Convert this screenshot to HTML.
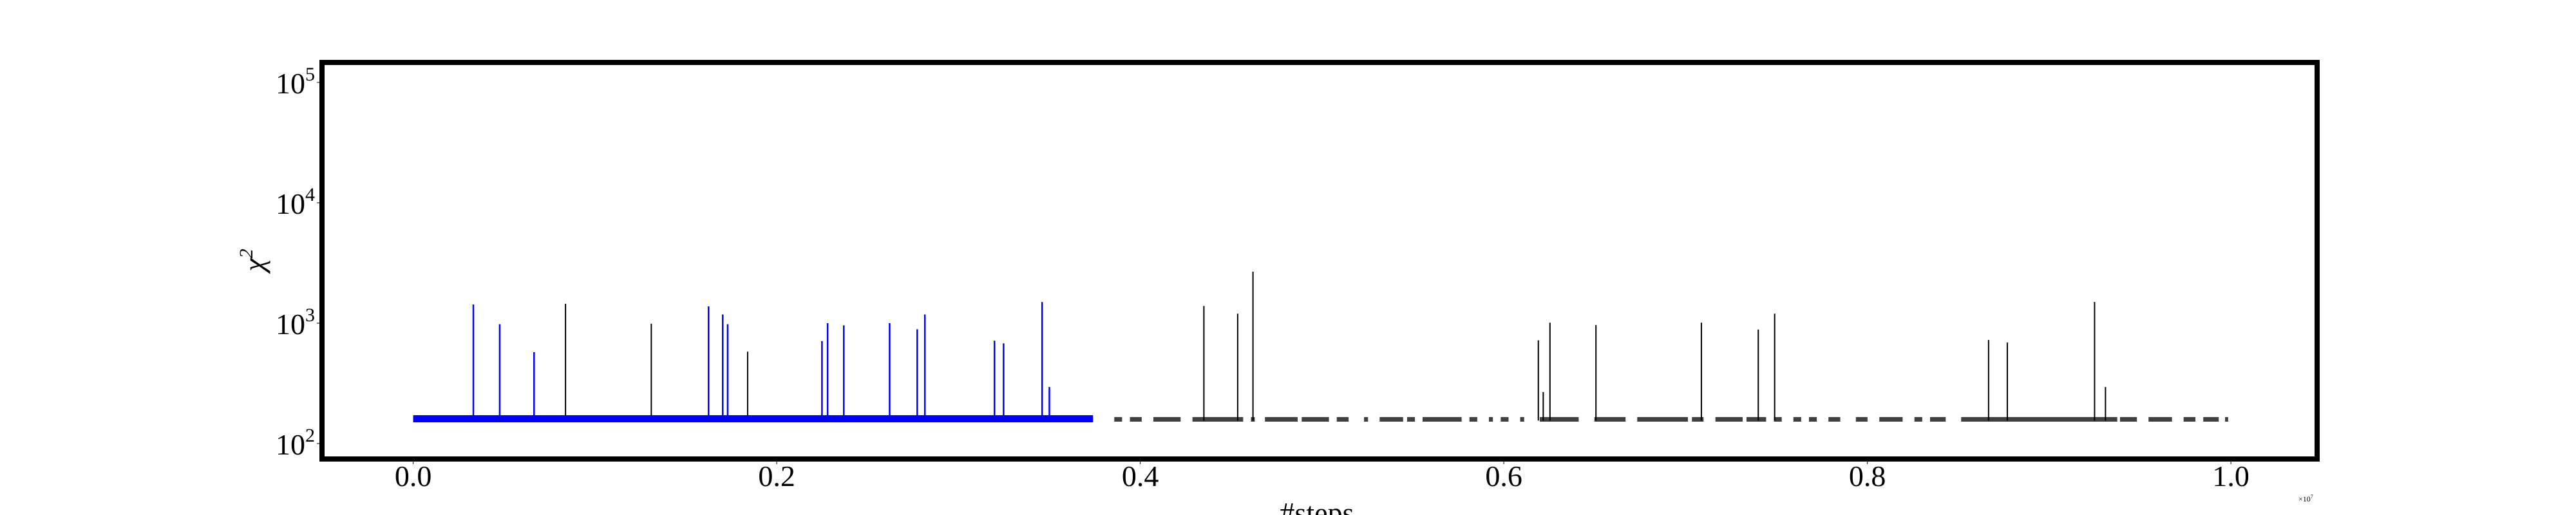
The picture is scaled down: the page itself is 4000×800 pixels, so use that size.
<!DOCTYPE html>
<html><head><meta charset="utf-8"><style>
html,body{margin:0;padding:0;background:#fff;width:4000px;height:800px;overflow:hidden}
svg text{font-family:"Liberation Serif",serif;fill:#000}
</style></head><body>
<svg id="chart" width="4000" height="800" viewBox="0 0 4000 800" xmlns="http://www.w3.org/2000/svg">
<g id="marks"></g>
<rect x="500" y="97" width="3098" height="616" fill="none" stroke="#000" stroke-width="8"/>
<g id="axes"></g>
<text x="0" y="0" font-size="46" font-style="italic" text-anchor="middle" transform="translate(410,404) rotate(-90)">χ<tspan font-size="30" dy="-18">2</tspan></text>
<text x="2045" y="812" font-size="46" text-anchor="middle">#steps</text>
<text x="3569" y="779" font-size="12">×10<tspan font-size="8" dy="-5">7</tspan></text>
</svg>
<script>
// data (x in units of 1e7 steps, y = chi^2)
const xTicks = [0.0, 0.2, 0.4, 0.6, 0.8, 1.0];
const xTickLabels = ["0.0", "0.2", "0.4", "0.6", "0.8", "1.0"];
const yTicks = [2, 3, 4, 5];
const bandLow = 150;
const bandHigh = 172;
const blackLow = 152;
const blackHigh = 166;
const blueRange = [0.0, 0.374];
const blueSpikeX = [0.0331,0.0476,0.0665,0.1625,0.1703,0.173,0.2249,0.228,0.2369,0.2621,0.2773,0.2815,0.3198,0.3248,0.346,0.35];
const blueSpikeY = [1430,980,575,1380,1180,980,710,1000,960,1000,890,1180,715,680,1500,295];
const blackSegStart = [0.0,0.3857,0.3943,0.4072,0.4287,0.4609,0.4686,0.4888,0.5081,0.5231,0.5317,0.5468,0.5553,0.5811,0.5918,0.5983,0.609,0.6198,0.6498,0.6734,0.7035,0.7164,0.7335,0.7486,0.7593,0.7679,0.7786,0.7937,0.8066,0.8259,0.8345,0.8516,0.939,0.9547,0.974,0.9848,0.9968];
const blackSegEnd   = [0.374,0.390,0.4008,0.4222,0.4566,0.463,0.4866,0.5038,0.5146,0.5253,0.5446,0.5511,0.5768,0.5854,0.594,0.6026,0.6112,0.6412,0.667,0.7013,0.7099,0.7314,0.7443,0.7529,0.7636,0.7722,0.7851,0.8001,0.8194,0.8302,0.8431,0.9375,0.9483,0.9676,0.9805,0.9933,0.9985];
const blackSpikeX = [0.0838,0.131,0.184,0.435,0.4536,0.462,0.619,0.6217,0.6254,0.6507,0.7087,0.74,0.749,0.8667,0.877,0.925,0.931];
const blackSpikeY = [1450,990,580,1390,1200,2680,720,268,1010,965,1010,885,1200,725,690,1500,295];

const NS = "http://www.w3.org/2000/svg";
function xs(v){ return 641.6 + 2822.5*v; }
function ys(v){ return 689 - 187*(Math.log10(v) - 2); }
function ye(e){ return 689 - 187*(e - 2); }
const marks = document.getElementById('marks');
const axes = document.getElementById('axes');
function mk(tag, attrs, parent){
  const el = document.createElementNS(NS, tag);
  for (const k in attrs) el.setAttribute(k, attrs[k]);
  parent.appendChild(el);
  return el;
}
// black series (drawn first, under blue)
for (let i = 0; i < blackSegStart.length; i++){
  const r = mk('rect', {x: xs(blackSegStart[i]), y: ys(blackHigh), width: Math.max(2, xs(blackSegEnd[i]) - xs(blackSegStart[i])), height: ys(blackLow) - ys(blackHigh), fill: '#000', 'fill-opacity': 0.75}, marks);
  
  
}
for (let i = 0; i < blackSpikeX.length; i++){
  const l = mk('line', {x1: xs(blackSpikeX[i]), x2: xs(blackSpikeX[i]), y1: ys(155), y2: ys(blackSpikeY[i]), stroke: '#000', 'stroke-width': 2}, marks);
  
  
}
// blue series
const band = mk('rect', {x: xs(blueRange[0]), y: ys(bandHigh), width: xs(blueRange[1]) - xs(blueRange[0]), height: ys(bandLow) - ys(bandHigh), fill: '#0000ff'}, marks);


for (let i = 0; i < blueSpikeX.length; i++){
  const l = mk('line', {x1: xs(blueSpikeX[i]), x2: xs(blueSpikeX[i]), y1: ys(155), y2: ys(blueSpikeY[i]), stroke: '#0000ff', 'stroke-width': 2.5}, marks);
  
  
}
// axes ticks
for (let i = 0; i < xTicks.length; i++){
  const x = xs(xTicks[i]);
  const t = mk('line', {x1: x, x2: x, y1: 717, y2: 721, stroke: '#000', 'stroke-width': 1}, axes);
  
  
  const lb = mk('text', {x: x, y: 755, 'font-size': 46, 'text-anchor': 'middle'}, axes);
  lb.textContent = xTickLabels[i];
  
  
}
for (let i = 0; i < yTicks.length; i++){
  const y = ye(yTicks[i]);
  const t = mk('line', {x1: 492, x2: 496, y1: y, y2: y, stroke: '#000', 'stroke-width': 1}, axes);
  
  
  const lb = mk('text', {x: 428, y: y + 17, 'font-size': 46}, axes);
  lb.textContent = '10';
  const sup = mk('tspan', {'font-size': 30, dy: -20}, lb);
  sup.textContent = String(yTicks[i]);
  
  
}
</script>
</body></html>
